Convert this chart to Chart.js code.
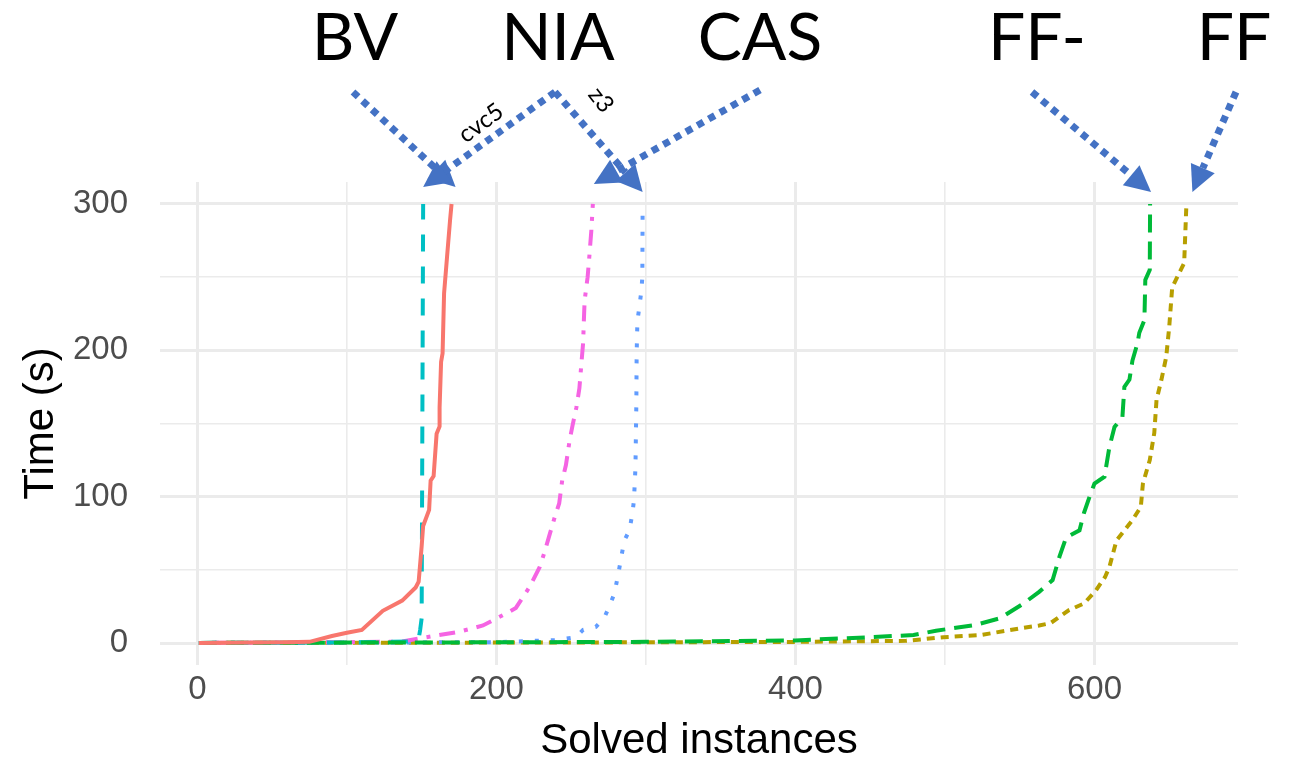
<!DOCTYPE html>
<html>
<head>
<meta charset="utf-8">
<script src="https://cdn.jsdelivr.net/npm/chart.js@4.4.1/dist/chart.umd.min.js"></script>
<style>
  html, body { margin: 0; padding: 0; background: #fff; }
  #wrap { width: 1289px; height: 762px; position: relative; }
</style>
</head>
<body>
<div id="wrap"><canvas id="cactus"></canvas></div>
<script>
// solved instances (x) vs. time in seconds (y)
var bvX = [1, 20, 40, 60, 75, 90, 100, 110, 124, 137, 146, 148, 150, 151, 155, 156, 158, 160, 162, 162, 163, 164, 165, 167, 169, 170];
var bvY = [0.1, 0.2, 0.3, 0.5, 0.8, 4.8, 7, 9, 22, 29, 38, 42, 66, 80, 91, 111, 114, 143, 148, 161, 192, 198, 239, 264, 289, 300];

var cvc5X = [1, 50, 100, 130, 145, 148, 149, 150, 151];
var cvc5Y = [0.1, 0.2, 0.4, 0.8, 1.2, 3, 9, 17, 300];

var casX = [1, 50, 100, 137, 150, 175, 191, 207, 213, 222, 229, 232, 235, 239, 242, 244, 246.5, 249, 251, 253.5, 255.5, 257, 258, 258.5, 259, 261, 262, 263.5, 264.5];
var casY = [0.1, 0.3, 0.6, 1, 3.4, 7.7, 12, 20.5, 24, 38, 52, 61.5, 72, 86, 95.5, 111, 121.6, 138.7, 149, 161, 174, 193, 205, 220.5, 234, 250, 262, 282, 300];

var z3X = [1, 100, 200, 240, 253, 258, 266.5, 272, 275.5, 279, 282, 285.5, 289, 291, 292, 293, 293.6, 293.8, 294.3, 295.6, 297, 297.6, 297.8];
var z3Y = [0.1, 0.3, 0.6, 2, 4, 9, 11, 17, 25, 34, 50, 70, 77, 89, 97.5, 120, 164, 198, 220, 229.5, 241, 250, 300];

var ffmX = [1, 100, 200, 300, 400, 448, 479, 494, 520, 537, 552.5, 563, 572, 576.6, 581, 590, 593, 596.7, 600, 606.7, 610, 613.4, 618.7, 620, 623.4, 625.4, 628.8, 630, 633.4, 634, 637, 637.2];
var ffmY = [0.1, 0.3, 0.5, 0.8, 1.8, 3.9, 5.5, 8.4, 12.3, 17, 27, 35, 43, 59, 72, 77, 89, 100, 109, 113.6, 134, 147.6, 154.5, 175, 180, 193, 205, 212, 220.7, 248, 255, 300];

var ffX = [1, 100, 200, 300, 400, 474, 499, 524, 550, 563, 570.6, 583, 593, 601, 607, 610, 614.7, 625.4, 631, 632.4, 637, 640, 641.5, 644.8, 648, 650, 652, 657, 660, 661.5];
var ffY = [0.1, 0.2, 0.3, 0.5, 0.8, 1.5, 4, 5.5, 10, 12, 13.6, 22.5, 27, 36, 45, 52, 70, 84, 93, 109, 125, 143.5, 166, 180, 195.5, 216, 243, 253.5, 259.6, 300];

var yTicks = [0, 100, 200, 300];
var xTicks = [0, 200, 400, 600];

function pts(xs, ys) {
	return xs.map(function(x, i) { return {x: x, y: ys[i]}; });
}

function series(label, xs, ys, color, dash) {
	return {
		label: label,
		data: pts(xs, ys),
		borderColor: color,
		backgroundColor: color,
		borderWidth: 4,
		borderDash: dash,
		borderCapStyle: 'butt',
		pointRadius: 0,
		tension: 0,
		fill: false
	};
}

var datasets = [
	series('BV', bvX, bvY, '#F8766D', []),
	series('FF-', ffmX, ffmY, '#00BA38', [18, 9]),
	series('cvc5', cvc5X, cvc5Y, '#00BFC4', [17, 15]),
	series('CAS', casX, casY, '#F564E3', [4, 9, 16, 9]),
	series('z3', z3X, z3Y, '#619CFF', [4, 12]),
	series('FF', ffX, ffY, '#B79F00', [8, 6])
];

// big labels and dotted arrows above the panel
var arrowColor = '#4472C4';
var topLabels = [
	{text: 'BV', x: 355},
	{text: 'NIA', x: 558},
	{text: 'CAS', x: 760},
	{text: 'FF-', x: 1037},
	{text: 'FF', x: 1234}
];
// start point in pixels, tip follows the end of a series
var arrows = [
	{sx: 353, sy: 92, series: 0, dx: 4, dy: -17},
	{sx: 555, sy: 92, series: 2, dx: 0, dy: -17},
	{sx: 555, sy: 92, series: 4, dx: 0, dy: -12},
	{sx: 760, sy: 90, series: 3, dx: 1, dy: -20},
	{sx: 1032, sy: 92, series: 1, dx: 1, dy: -12},
	{sx: 1236, sy: 92, series: 5, dx: 6, dy: -12}
];

function drawArrow(ctx, x0, y0, x1, y1) {
	var ang = Math.atan2(y1 - y0, x1 - x0);
	var headLen = 26, headW = 13;
	var bx = x1 - headLen * Math.cos(ang);
	var by = y1 - headLen * Math.sin(ang);
	ctx.save();
	ctx.strokeStyle = arrowColor;
	ctx.lineWidth = 7;
	ctx.lineCap = 'butt';
	ctx.setLineDash([7, 6]);
	ctx.beginPath();
	ctx.moveTo(x0, y0);
	ctx.lineTo(bx, by);
	ctx.stroke();
	ctx.setLineDash([]);
	ctx.fillStyle = arrowColor;
	ctx.beginPath();
	ctx.moveTo(x1, y1);
	ctx.lineTo(bx + headW * Math.sin(ang), by - headW * Math.cos(ang));
	ctx.lineTo(bx - headW * Math.sin(ang), by + headW * Math.cos(ang));
	ctx.closePath();
	ctx.fill();
	ctx.restore();
}

function smallText(ctx, text, x, y, rot) {
	ctx.save();
	ctx.translate(x, y);
	ctx.rotate(rot * Math.PI / 180);
	ctx.fillStyle = '#000';
	ctx.font = '24px Lato';
	ctx.textAlign = 'center';
	ctx.textBaseline = 'middle';
	ctx.fillText(text, 0, 0);
	ctx.restore();
}

var annotate = {
	id: 'annotate',
	afterDraw: function(chart) {
		var ctx = chart.ctx;
		var xs = chart.scales.x, ys = chart.scales.y;
		ctx.save();
		ctx.fillStyle = '#000';
		ctx.font = '66px Lato';
		ctx.textAlign = 'center';
		ctx.textBaseline = 'alphabetic';
		topLabels.forEach(function(l) { ctx.fillText(l.text, l.x, 60); });
		ctx.restore();
		arrows.forEach(function(a) {
			var d = chart.data.datasets[a.series].data;
			var last = d[d.length - 1];
			drawArrow(ctx, a.sx, a.sy, xs.getPixelForValue(last.x) + a.dx, ys.getPixelForValue(last.y) + a.dy);
		});
		smallText(ctx, 'cvc5', 481, 123, -36);
		smallText(ctx, 'z3', 601, 100, 52);
	}
};

function gridWidth(major) {
	return function(c) {
		return c.tick && major.indexOf(c.tick.value) >= 0 ? 3 : 1.6;
	};
}

new Chart(document.getElementById('cactus'), {
	type: 'line',
	data: { datasets: datasets },
	plugins: [annotate],
	options: {
		responsive: true,
		maintainAspectRatio: false,
		animation: false,
		layout: { padding: { top: 182, right: 51, left: 0, bottom: 0 } },
		plugins: { legend: { display: false }, tooltip: { enabled: false } },
		scales: {
			x: {
				type: 'linear',
				min: -25,
				max: 696,
				afterBuildTicks: function(s) {
					s.ticks = s.ticks.filter(function(t) { return t.value % 100 === 0; });
				},
				afterFit: function(s) { s.height = 97; },
				ticks: {
					stepSize: 100,
					includeBounds: false,
					autoSkip: false,
					padding: 5,
					color: '#4D4D4D',
					font: { family: 'Liberation Sans', size: 33 },
					maxRotation: 0,
					callback: function(v) { return xTicks.indexOf(v) >= 0 ? String(v) : ''; }
				},
				grid: { color: '#EBEBEB', lineWidth: gridWidth(xTicks), drawTicks: false },
				border: { display: false },
				title: {
					display: true,
					text: 'Solved instances',
					color: '#000',
					font: { family: 'Liberation Sans', size: 42, lineHeight: 1 },
					padding: { top: 0, bottom: 0 }
				}
			},
			y: {
				min: -15,
				max: 315,
				afterBuildTicks: function(s) {
					s.ticks = s.ticks.filter(function(t) { return t.value % 50 === 0; });
				},
				afterFit: function(s) { s.width = 160; },
				ticks: {
					stepSize: 50,
					includeBounds: false,
					autoSkip: false,
					padding: 32,
					color: '#4D4D4D',
					font: { family: 'Liberation Sans', size: 33 },
					callback: function(v) { return yTicks.indexOf(v) >= 0 ? String(v) : ''; }
				},
				grid: { color: '#EBEBEB', lineWidth: gridWidth(yTicks), drawTicks: false },
				border: { display: false },
				title: {
					display: true,
					text: 'Time (s)',
					color: '#000',
					font: { family: 'Liberation Sans', size: 42, lineHeight: 1 },
					padding: { top: 20, bottom: 0 }
				}
			}
		}
	}
});
</script>
</body>
</html>
